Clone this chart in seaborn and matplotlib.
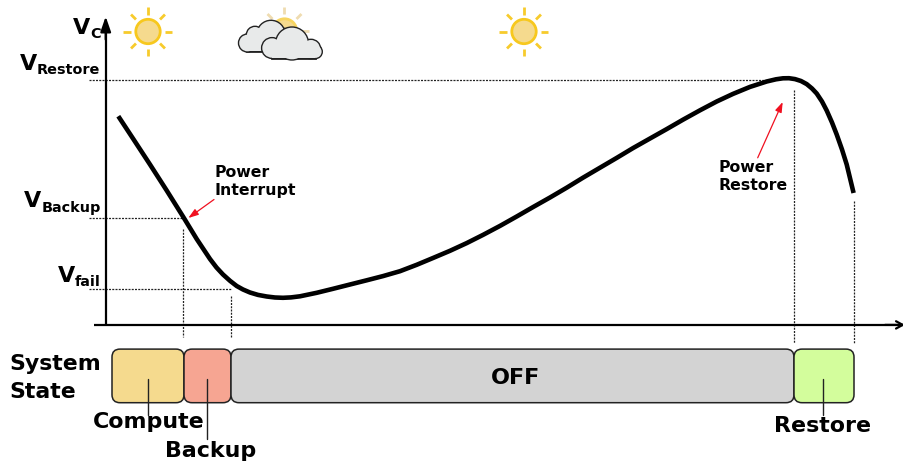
import matplotlib
matplotlib.use("Agg")
import matplotlib.pyplot as plt
import numpy as np
import pandas as pd
import seaborn as sns
from matplotlib.patches import Circle, FancyBboxPatch, Rectangle

sns.set_theme(style="white")
plt.rcParams['font.family'] = ['DejaVu Sans']

# Curve (pixel-based scale of the schematic)
curve_x = [118.3,133.3,150,166.7,183.3,196.7,210,216.5,223,230,236.7,243,250,258,266.7,275,283,291,300,316.7,333,350,366.7,383,400,416.7,433,450,466.7,483,500,516.7,533,550,566.7,583,600,616.7,633,650,666.7,683,700,716.7,733,750,766.7,776,783,789,795,801,806.7,812,816.7,822,826.7,832,836.7,842,846.7,853.6]
curve_y = [116.7,139.5,165,191,217.5,239.5,259.5,268,275,281.3,286.5,290,293,295.4,297,298,298.3,297.9,296.8,293.3,289.3,285,280.8,276.6,271.7,265.3,258.5,251.3,243.6,235.4,226.4,217,207.6,198,188.2,178.2,168.2,158.4,148.6,139,129.6,120.2,110.8,102,94.4,87.4,82,79.8,78.8,78.7,79.6,81.5,84.6,89,94,102,111,123,135,150,165,193.5]

states = ["Compute", "Backup", "OFF", "Restore"]
state_start = [112, 184, 231, 794]
state_end = [184, 231, 794, 854]
state_colors = ["#f5da8e", "#f6a592", "#d3d3d3", "#d3fd9c"]

level_y = [80.3, 218, 289.8]
level_x_end = [775, 182, 232]

df = pd.DataFrame({"x": curve_x, "y": curve_y})

fig = plt.figure(figsize=(9.04, 4.64), dpi=100)
ax = fig.add_axes([0, 0, 1, 1])
ax.set_xlim(0, 904)
ax.set_ylim(463.5, -0.5)

sns.lineplot(data=df, x="x", y="y", ax=ax, color="black", lw=3.3, sort=False,
             zorder=5, solid_capstyle="butt", solid_joinstyle="round")
ax.axis("off")

# axes arrows
ax.plot([105.7, 105.7], [326, 30], color="black", lw=1.6, zorder=4, solid_capstyle="butt")
ax.annotate("", xy=(105.7, 17), xytext=(105.7, 40),
            arrowprops=dict(arrowstyle="-|>,head_width=0.26,head_length=0.75", color="black", lw=1.6, shrinkA=0, shrinkB=0))
ax.plot([94, 903], [325.4, 325.4], color="black", lw=1.6, zorder=4, solid_capstyle="butt")
ax.annotate("", xy=(905, 325.4), xytext=(885, 325.4), annotation_clip=False,
            arrowprops=dict(arrowstyle="->,head_width=0.22,head_length=0.4", color="black", lw=1.6, shrinkA=0, shrinkB=0))

# dotted guides
dot = dict(color="#222222", lw=0.9, ls=(0, (1.6, 1)), zorder=2)
for y, xe in zip(level_y, level_x_end):
    ax.plot([88.7, xe], [y, y], **dot)
ax.plot([183.5, 183.5], [229, 337], **dot)
ax.plot([231.4, 231.4], [296, 338], **dot)
ax.plot([793.8, 793.8], [90, 343], **dot)
ax.plot([853.8, 853.8], [201, 343], **dot)

# state boxes
for s, a, b, c in zip(states, state_start, state_end, state_colors):
    r = 8
    ax.add_patch(FancyBboxPatch((a + r, 349.6 + r), b - a - 2 * r, 53.6 - 2 * r,
                                boxstyle=f"round,pad={r},rounding_size={r}",
                                fc=c, ec="#222222", lw=1.1, zorder=3))
tb = dict(fontweight="bold", color="#000000")
ax.text(515.5, 383.5, "OFF", fontsize=16, ha="center", va="baseline", **tb)

# leader lines
ax.plot([147.7, 147.7], [379, 415], color="#222222", lw=1, zorder=4)
ax.plot([207.3, 207.3], [379, 439], color="#222222", lw=1, zorder=4)
ax.plot([823.4, 823.4], [379, 415], color="#222222", lw=1, zorder=4)

ax.text(148.3, 427.5, "Compute", fontsize=15.9, ha="center", va="baseline", zorder=6, **tb)
ax.text(211, 457, "Backup", fontsize=15.9, ha="center", va="baseline", zorder=6, **tb)
ax.text(822.5, 431.8, "Restore", fontsize=15.9, ha="center", va="baseline", zorder=6, **tb)
ax.text(9.5, 369.7, "System", fontsize=15.8, ha="left", va="baseline", **tb)
ax.text(9.5, 397.3, "State", fontsize=15.8, ha="left", va="baseline", **tb)

# V labels
ax.text(73, 33.5, "V", fontsize=16, ha="left", va="baseline", **tb)
ax.text(90.5, 38, "C", fontsize=10.4, ha="left", va="baseline", **tb)
ax.text(20, 69.3, "V", fontsize=16, ha="left", va="baseline", **tb)
ax.text(37, 74, "Restore", fontsize=10.4, ha="left", va="baseline", **tb)
ax.text(23.5, 207, "V", fontsize=16, ha="left", va="baseline", **tb)
ax.text(41.5, 211.3, "Backup", fontsize=10.4, ha="left", va="baseline", **tb)
ax.text(58, 281.7, "V", fontsize=16, ha="left", va="baseline", **tb)
ax.text(75, 285.3, "fail", fontsize=10.4, ha="left", va="baseline", **tb)

# power annotations
ax.text(214.5, 176.8, "Power", fontsize=11.3, ha="left", va="baseline", **tb)
ax.text(214.5, 194.8, "Interrupt", fontsize=11.3, ha="left", va="baseline", **tb)
ax.text(718.5, 171.4, "Power", fontsize=11.3, ha="left", va="baseline", **tb)
ax.text(718.5, 189.3, "Restore", fontsize=11.3, ha="left", va="baseline", **tb)
arrow = dict(arrowstyle="-|>,head_width=0.17,head_length=0.5", color="#f01020", lw=0.9, shrinkA=0, shrinkB=0)
ax.annotate("", xy=(188.3, 218.5), xytext=(214, 200), arrowprops=arrow, zorder=7)
ax.annotate("", xy=(782.7, 102.5), xytext=(757.7, 158.3), arrowprops=arrow, zorder=7)


def sun(cx, cy, ray="#f7cb2c", disc_edge="#f7c81e"):
    ax.add_patch(Circle((cx, cy), 12.2, fc="#f5da8e", ec=disc_edge, lw=2, zorder=3))
    for ang in np.arange(0, 360, 45):
        d = np.radians(ang)
        r0, r1 = (17, 24.5) if ang % 90 == 0 else (17, 24)
        ax.plot([cx + r0 * np.cos(d), cx + r1 * np.cos(d)],
                [cy + r0 * np.sin(d), cy + r1 * np.sin(d)],
                color=ray, lw=2, zorder=3, solid_capstyle="butt")


def cloud(lobes, body, zorder):
    x0, y0, w, h = body
    fill = "#e8eaea"
    edge = "#222222"
    for cx, cy, r in lobes:
        ax.add_patch(Circle((cx, cy), r, fc="none", ec=edge, lw=2, zorder=zorder))
    ax.add_patch(Rectangle((x0, y0), w, h, fc="none", ec=edge, lw=2, zorder=zorder))
    for cx, cy, r in lobes:
        ax.add_patch(Circle((cx, cy), r, fc=fill, ec="none", zorder=zorder + 0.01))
    ax.add_patch(Rectangle((x0, y0), w, h, fc=fill, ec="none", zorder=zorder + 0.01))


sun(148, 32)
sun(524, 32)
sun(284.5, 31.5, ray="#efdcb0", disc_edge="#f7d560")
cloud([(247.5, 43.5, 8.3), (255, 35.5, 8), (271, 35, 13.5), (283, 39, 9.5)],
      (247.5, 38, 38, 13.8), 4)
cloud([(272, 48.5, 9.7), (292, 44, 15.8), (311, 49.5, 9), (315.4, 52.2, 6.2)],
      (272, 45, 43.4, 13.2), 4.2)

fig.savefig("out.png", dpi=100)
